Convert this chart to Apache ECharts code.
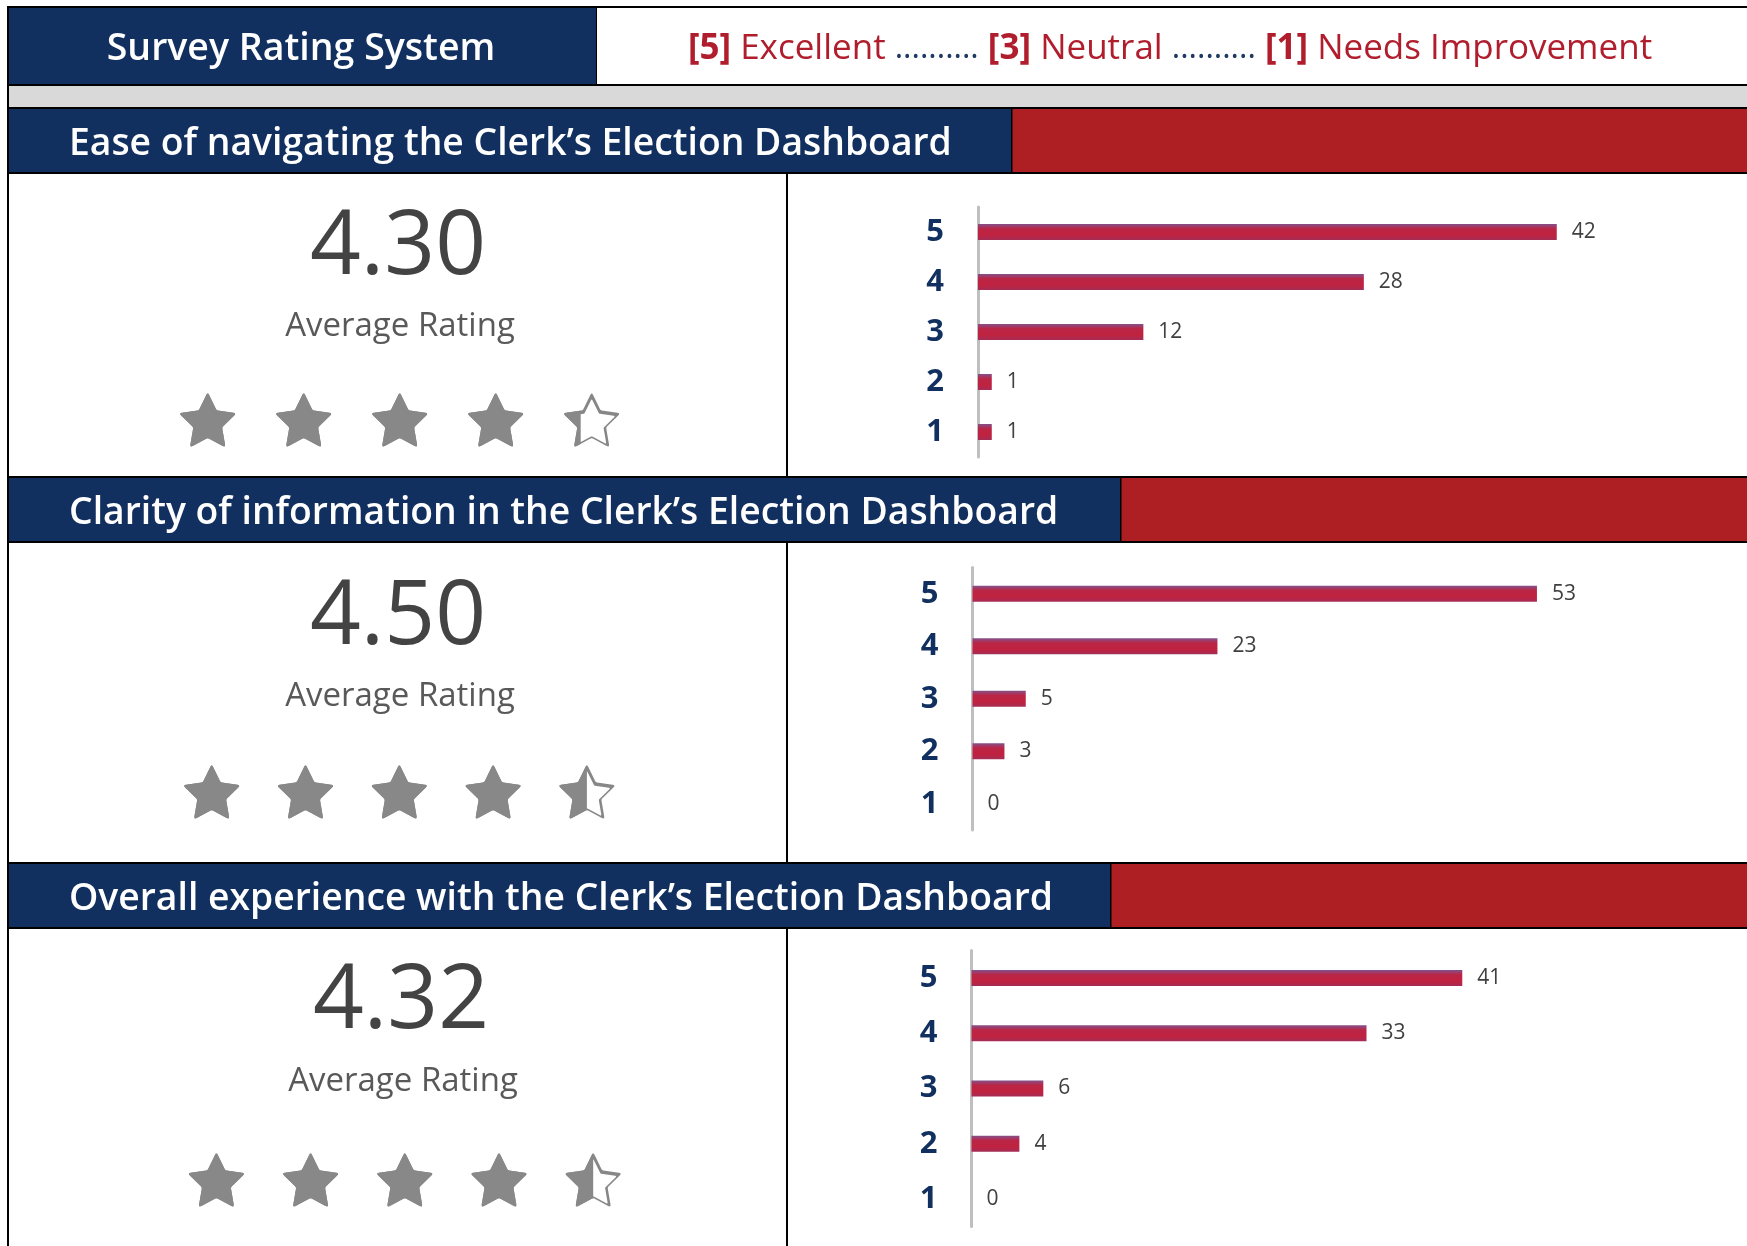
<!DOCTYPE html>
<html>
<head>
<meta charset="utf-8">
<script src="https://cdn.jsdelivr.net/npm/echarts@6/dist/echarts.min.js"></script>
<style>
html,body{margin:0;padding:0;background:#fff;}
#chart{width:1747px;height:1246px;}
</style>
</head>
<body>
<div id="chart"></div>
<script>
// ---------- data ----------
const ratingLabels = ['5', '4', '3', '2', '1'];
const easeCounts = [42, 28, 12, 1, 1];
const clarityCounts = [53, 23, 5, 3, 0];
const overallCounts = [41, 33, 6, 4, 0];
const averageRatings = ['4.30', '4.50', '4.32'];
const starsShown = [4.3, 4.5, 4.5];           // star fill as drawn in the picture
const sectionTitles = [
  'Ease of navigating the Clerk\u2019s Election Dashboard',
  'Clarity of information in the Clerk\u2019s Election Dashboard',
  'Overall experience with the Clerk\u2019s Election Dashboard'
];
const headerTitle = 'Survey Rating System';
const scaleText = '{b|[5]}{r| Excellent }{d|..........}{b| [3]}{r| Neutral }{d|..........}{b| [1]}{r| Needs Improvement}';
const avgLabel = 'Average Rating';

// ---------- styling / layout ----------
const NAVY = '#12305f';
const RED = '#ae1f24';
const FONT = "'Open Sans', 'Noto Sans', sans-serif";

const sections = [
  {counts: easeCounts, hTop: 109, navyW: 1002, cTop: 174, cH: 302,
   bar: {left: 978, top: 207, height: 250, width: 689, max: 50},
   star: {left: 159.7, width: 480, cy: 420},
   num: {x: 398, y: 249}, avg: {x: 400, y: 326.5}},
  {counts: clarityCounts, hTop: 478, navyW: 1111, cTop: 543, cH: 319,
   bar: {left: 972.5, top: 567.5, height: 262.5, width: 639, max: 60},
   star: {left: 164.8, width: 469, cy: 792},
   num: {x: 398, y: 619}, avg: {x: 400, y: 696.5}},
  {counts: overallCounts, hTop: 864, navyW: 1101, cTop: 929, cH: 317,
   bar: {left: 971.5, top: 950.5, height: 276, width: 598.5, max: 50},
   star: {left: 169.3, width: 471, cy: 1180},
   num: {x: 401, y: 1003}, avg: {x: 403, y: 1081.5}}
];

// rounded star symbol path
function starPath(t0, t1) {
  const R = 50, r = 25, cx = 50, cy = 50;
  const v = [];
  for (let i = 0; i < 10; i++) {
    const a = (-90 + 36 * i) * Math.PI / 180;
    const rr = i % 2 === 0 ? R : r;
    v.push([cx + rr * Math.cos(a), cy + rr * Math.sin(a)]);
  }
  let d = '';
  for (let i = 0; i < 10; i++) {
    const p = v[i], pr = v[(i + 9) % 10], nx = v[(i + 1) % 10];
    const t = i % 2 === 0 ? t0 : t1;
    const a = [p[0] + (pr[0] - p[0]) * t, p[1] + (pr[1] - p[1]) * t];
    const b = [p[0] + (nx[0] - p[0]) * t, p[1] + (nx[1] - p[1]) * t];
    d += (i === 0 ? 'M' : 'L') + a[0].toFixed(2) + ' ' + a[1].toFixed(2) +
      ' Q' + p[0].toFixed(2) + ' ' + p[1].toFixed(2) + ' ' + b[0].toFixed(2) + ' ' + b[1].toFixed(2) + ' ';
  }
  return 'path://' + d + 'Z';
}
const STAR = starPath(0.16, 0.06);
const STAR_IN = starPath(0.10, 0.04);
const STAR_W = 55, STAR_H = 53;
const IN_W = 46, IN_H = 44;

const chart = echarts.init(document.getElementById('chart'), null, {renderer: 'canvas'});

const graphic = [];
// black table background
graphic.push({type: 'rect', shape: {x: 7, y: 6, width: 1740, height: 1240}, style: {fill: '#000'}, z: -10});
// header row
graphic.push({type: 'rect', shape: {x: 9, y: 8, width: 587, height: 76}, style: {fill: NAVY}, z: -9});
graphic.push({type: 'rect', shape: {x: 597, y: 8, width: 1150, height: 76}, style: {fill: '#fff'}, z: -9});
graphic.push({type: 'rect', shape: {x: 9, y: 86, width: 1738, height: 21}, style: {fill: '#d9d9d9'}, z: -9});
graphic.push({type: 'text', z: 5, style: {text: headerTitle, x: 301, y: 49, fill: '#fff',
  font: '600 37.5px ' + FONT, align: 'center', verticalAlign: 'middle', textAlign: 'center', textVerticalAlign: 'middle'}});
graphic.push({type: 'text', z: 5, style: {text: scaleText, x: 1170, y: 49,
  align: 'center', verticalAlign: 'middle', textAlign: 'center', textVerticalAlign: 'middle',
  rich: {
    b: {fontFamily: FONT, fontSize: 35, fontWeight: 'bold', fill: '#b01e2d', color: '#b01e2d'},
    r: {fontFamily: FONT, fontSize: 35, fontWeight: 'normal', fill: '#b01e2d', color: '#b01e2d'},
    d: {fontFamily: FONT, fontSize: 32, fontWeight: 'normal', fill: '#1f3864', color: '#1f3864'}
  }}});

sections.forEach((s, i) => {
  graphic.push({type: 'rect', shape: {x: 9, y: s.hTop, width: s.navyW, height: 63}, style: {fill: NAVY}, z: -9});
  graphic.push({type: 'rect', shape: {x: 9 + s.navyW + 1.5, y: s.hTop, width: 1747 - (9 + s.navyW + 1.5), height: 63}, style: {fill: RED}, z: -9});
  graphic.push({type: 'rect', shape: {x: 9, y: s.cTop, width: 777, height: s.cH}, style: {fill: '#fff'}, z: -9});
  graphic.push({type: 'rect', shape: {x: 788, y: s.cTop, width: 959, height: s.cH}, style: {fill: '#fff'}, z: -9});
  graphic.push({type: 'text', z: 5, style: {text: sectionTitles[i], x: 69, y: s.hTop + 35, fill: '#fff',
    font: '600 37.3px ' + FONT, align: 'left', verticalAlign: 'middle', textAlign: 'left', textVerticalAlign: 'middle'}});
  graphic.push({type: 'text', z: 5, style: {text: averageRatings[i], x: s.num.x, y: s.num.y, fill: '#434343',
    font: '400 89px ' + FONT, align: 'center', verticalAlign: 'middle', textAlign: 'center', textVerticalAlign: 'middle'}});
  graphic.push({type: 'text', z: 5, style: {text: avgLabel, x: s.avg.x, y: s.avg.y, fill: '#595959',
    font: '400 33px ' + FONT, align: 'center', verticalAlign: 'middle', textAlign: 'center', textVerticalAlign: 'middle'}});
});

const grids = [], xAxes = [], yAxes = [], series = [];
const barGrad = new echarts.graphic.LinearGradient(0, 0, 0, 1, [
  {offset: 0, color: '#84508a'},
  {offset: 0.3, color: '#bb2545'},
  {offset: 0.7, color: '#c0223f'},
  {offset: 1, color: '#a52c56'}
]);

sections.forEach((s, i) => {
  grids.push({left: s.bar.left, top: s.bar.top, width: s.bar.width, height: s.bar.height, containLabel: false});
  xAxes.push({type: 'value', gridIndex: i, min: 0, max: s.bar.max, show: false});
  yAxes.push({type: 'category', gridIndex: i, data: ratingLabels, inverse: true,
    axisLine: {show: true, lineStyle: {color: '#bfbfbf', width: 3}},
    axisTick: {show: false},
    axisLabel: {margin: 34, fontFamily: FONT, fontSize: 31, fontWeight: 'bold', color: NAVY}});
  series.push({type: 'bar', xAxisIndex: i, yAxisIndex: i, data: s.counts, barWidth: 16,
    itemStyle: {color: barGrad},
    label: {show: true, position: 'right', distance: 15, fontFamily: FONT, fontSize: 21, color: '#404040'},
    silent: true});
});

sections.forEach((s, i) => {
  const gi = 3 + i;
  grids.push({left: s.star.left, top: s.star.cy - 30, width: s.star.width, height: 60});
  xAxes.push({type: 'value', gridIndex: gi, min: 0, max: 5, show: false});
  yAxes.push({type: 'category', gridIndex: gi, data: ['stars'], show: false});
  const cell = s.star.width / 5;
  const gap = (cell - STAR_W) / 2;
  const full = Math.floor(starsShown[i]);
  const frac = starsShown[i] - full;
  const clipVal = frac > 0 ? full + (gap + frac * STAR_W) / cell : full;
  const common = {type: 'pictorialBar', xAxisIndex: gi, yAxisIndex: gi, symbolRepeat: 5,
    symbolMargin: '0!', symbolBoundingData: 5, symbolPosition: 'start', silent: true,
    barGap: '-100%'};
  // outline stars: gray star with a white inset
  series.push(Object.assign({}, common, {data: [5], symbol: STAR, symbolSize: [STAR_W, STAR_H],
    itemStyle: {color: '#878787'}, z: 2}));
  series.push(Object.assign({}, common, {data: [5], symbol: STAR_IN, symbolSize: [IN_W, IN_H],
    symbolOffset: [0, 1.5], itemStyle: {color: '#ffffff'}, z: 3}));
  // filled portion, clipped at the shown rating
  series.push(Object.assign({}, common, {data: [clipVal], symbol: STAR, symbolSize: [STAR_W, STAR_H],
    symbolClip: true, itemStyle: {color: '#888888'}, z: 4}));
});

chart.setOption({
  animation: false,
  backgroundColor: '#fff',
  graphic: graphic,
  grid: grids,
  xAxis: xAxes,
  yAxis: yAxes,
  series: series
});
</script>
</body>
</html>
